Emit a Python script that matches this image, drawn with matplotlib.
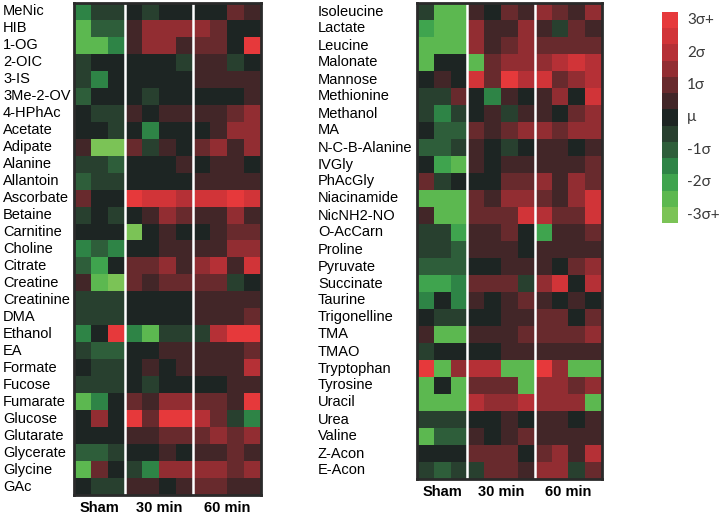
import numpy as np
import matplotlib.pyplot as plt
import matplotlib.transforms as mtransforms
from matplotlib.colors import ListedColormap, BoundaryNorm

plt.rcParams['font.family'] = ['Liberation Sans', 'DejaVu Sans']

# datos (z-score en unidades de sigma)
groups = ['Sham', '30 min', '60 min']

left_names = ['MeNic', 'HIB', '1-OG', '2-OIC', '3-IS', '3Me-2-OV', '4-HPhAc', 'Acetate',
              'Adipate', 'Alanine', 'Allantoin', 'Ascorbate', 'Betaine', 'Carnitine',
              'Choline', 'Citrate', 'Creatine', 'Creatinine', 'DMA', 'Ethanol', 'EA',
              'Formate', 'Fucose', 'Fumarate', 'Glucose', 'Glutarate', 'Glycerate',
              'Glycine', 'GAc']
left_values = [
    [-1.5, -0.5, -0.5, 0, -0.5, 0, 0, 0, 0, 1, 0.5],
    [-2.5, -1, -1, 0.5, 1.5, 1.5, 1.5, 1.5, 1, 0, 0],
    [-2.5, -2.5, -1.5, 0.5, 1.5, 1.5, 0.5, 1, 1, 0, 3],
    [-0.5, 0, 0, 0, 0, 0, -0.5, 0.5, 0.5, -0.5, 0],
    [-0.5, -1.5, 0, 0, 0, 0, 0, 0.5, 0.5, 0.5, 0.5],
    [-1, 0, 0, 0, -0.5, 0, 0, 0, 0, 0, 0.5],
    [0, -0.5, -0.5, 0.5, 0, 0.5, 0.5, 0.5, 0.5, 1, 1.5],
    [0, 0, -0.5, 0, -1.5, 0, 0, 0, 0.5, 1.5, 1.5],
    [0.5, -3, -3, 1, -0.5, 0.5, 0, 1, 1.5, 0.5, 1.5],
    [-0.5, -0.5, -1, 0, 0, 0, 0.5, 0, 0.5, 0.5, 0],
    [-1, -0.5, -0.5, 0, 0, 0, 0, 0.5, 0.5, 0.5, 0.5],
    [1, 0, 0, 3, 2.5, 2.5, 2, 2.5, 2.5, 3, 2.5],
    [-0.5, 0, -0.5, 0, 0.5, 1.5, 1, 0.5, 0.5, 1.5, 0.5],
    [0, 0, 0, -3, 0, 0.5, 0, 0, 0.5, 1, 1],
    [-1.5, -1, -1.5, 0, 0, 0.5, 0.5, 0.5, 0.5, 1.5, 1.5],
    [-1, -2, 0, 1, 1, 1.5, 0.5, 1.5, 2, 0.5, 2.5],
    [0.5, -2.5, -3, 1, 0.5, 1, 1, 1, 1, -0.5, 0],
    [-0.5, -0.5, -0.5, 0, 0, 0, 0, 0.5, 0.5, 0.5, 0.5],
    [-0.5, -0.5, -0.5, 0, 0, 0, 0, 0.5, 0.5, 0.5, 1],
    [-1.5, 0, 3, -1.5, -2.5, -0.5, -0.5, -0.5, 2, 3, 3],
    [-0.5, -1, -1, 0, 0, 0.5, 0.5, 0.5, 0.5, 0.5, 1],
    [0, -0.5, -0.5, 0, 0.5, 0, 0.5, 0.5, 0.5, 0.5, 2],
    [-0.5, -0.5, -0.5, 0, -0.5, 0, 0, 0, 0, 0.5, 0.5],
    [-2.5, -1.5, 0, 1, 0.5, 1.5, 1.5, 1, 1, 0.5, 3],
    [0, 1.5, 0, 3, 1, 3, 3, 2, 1, -0.5, -1.5],
    [0, 0, 0, 0.5, 0.5, 1, 1, 1, 1.5, 1, 1.5],
    [-1, -1, -0.5, 0, 0, 0.5, 0, 0.5, 0.5, 1, 0.5],
    [-2.5, 1, 0, -0.5, -1.5, 1.5, 1.5, 1.5, 1.5, 1, 1.5],
    [0, -0.5, -0.5, 0.5, 0.5, 0, 0.5, 1, 1, 0.5, 0.5],
]

right_names = ['Isoleucine', 'Lactate', 'Leucine', 'Malonate', 'Mannose', 'Methionine',
               'Methanol', 'MA', 'N-C-B-Alanine', 'IVGly', 'PhAcGly', 'Niacinamide',
               'NicNH2-NO', 'O-AcCarn', 'Proline', 'Pyruvate', 'Succinate', 'Taurine',
               'Trigonelline', 'TMA', 'TMAO', 'Tryptophan', 'Tyrosine', 'Uracil', 'Urea',
               'Valine', 'Z-Acon', 'E-Acon']
right_values = [
    [-0.5, -2.5, -2.5, 0.5, 0, 1, 0.5, 1.5, 1, 0.5, 1.5],
    [-2, -2.5, -2.5, 1.5, 0.5, 0.5, 1.5, 0.5, -0.5, 1, 0.5],
    [-2.5, -2.5, -2.5, 1.5, 0.5, 1, 1.5, 1, 1, 1, 1],
    [-2.5, 0, 0, -2.5, 1, 1.5, 1.5, 1.5, 2, 2.5, 2],
    [0, 0.5, 0, 2.5, 1, 3, 2, 2.5, 1, 1.5, 2],
    [-0.5, -0.5, 1, 0, -1.5, 0.5, 0, 0.5, 1.5, 0, 2.5],
    [-0.5, -1.5, -0.5, 0, 0.5, -0.5, 0.5, 0.5, 0, 1, 1.5],
    [0, -1, -1, 1, 0.5, 1, 1.5, 1.5, 1, 1.5, 1.5],
    [-1, -1, -0.5, 0.5, 0, -0.5, 0, 0.5, 0.5, 0, 0.5],
    [0, -2, -2.5, 0.5, 0, 0.5, 0.5, 0.5, 0.5, 0.5, 1],
    [1, -0.5, 0, 0, 0, 1, 1, 1.5, 0.5, 1.5, 1],
    [-2.5, -2.5, -2.5, 1, 0.5, 1.5, 1.5, 1, 0.5, 1.5, 2.5],
    [0.5, -2.5, -2.5, 1, 1, 1, 2.5, 2, 1, 1, 2.5],
    [-0.5, -0.5, -2, 0.5, 0.5, 1, 0, -2, 0.5, 0.5, 1],
    [-0.5, -0.5, -1, 0.5, 0.5, 0.5, 0, 0.5, 0.5, 0.5, 0.5],
    [-1, -1, -1, 0, 0, 0.5, 0.5, 0.5, 0, 1, 1.5],
    [-2, -2, -1.5, 1, 1, 1, -0.5, 1.5, 2.5, 0, 2],
    [-1.5, 0, -1.5, 0.5, 0, 0.5, 1, 0.5, 0, 0.5, 0],
    [0, -0.5, -0.5, 0, 0, 0.5, 0.5, 1, 1, 0, 1],
    [0.5, -2.5, -2.5, 0.5, 0.5, 0.5, 1, 1, 1, 1, 1.5],
    [-0.5, 0, 0, 0, 0, 0.5, 0.5, 0.5, 0.5, 0.5, 0.5],
    [3, -2.5, 1.5, 2, 2, -2.5, -2.5, 3, 1.5, -2.5, -2.5],
    [-2.5, 0, -2.5, 1, 1, 1, -2.5, 1.5, 1.5, 1, 1.5],
    [-2.5, -2.5, -2.5, 2, 1.5, 1.5, 2, 1.5, 1.5, 1.5, -2.5],
    [-0.5, -0.5, -0.5, 0, 0, 0.5, 0, 0.5, 0.5, 0, 0.5],
    [-2.5, -1, -1, 0.5, 0, 0.5, 1, 0.5, 0.5, 0.5, 0.5],
    [0, 0, 0, 1, 1, 1, 0, 1, 1.5, 0.5, 2],
    [-0.5, -1, -0.5, -0.5, 1, 1, 0.5, 1.5, 1.5, -0.5, 1],
]

scale_levels = [3, 2.5, 2, 1.5, 1, 0.5, 0, -0.5, -1, -1.5, -2, -2.5, -3]
scale_labels = ['3σ+', '2σ', '1σ', 'μ', '-1σ', '-2σ', '-3σ+']

# escala de colores verde - negro - rojo (13 niveles)
colors = ['#7BC356', '#5CB850', '#3FA44E', '#2E8446', '#2E5E3A', '#28402F', '#1D2523',
          '#422628', '#682A2D', '#922D32', '#B53036', '#D13438', '#E6393B']
cmap = ListedColormap(colors)
norm = BoundaryNorm(np.arange(-3.25, 3.5, 0.5), cmap.N)

fig = plt.figure(figsize=(7.21, 5.16), dpi=100)


def draw_panel(rect, names, values, label_x):
    ax = fig.add_axes(rect)
    ax.imshow(np.array(values), cmap=cmap, norm=norm, aspect='auto', interpolation='nearest')
    for xs in (2.5, 6.5):
        ax.axvline(xs, color='white', lw=1.8)
    ax.set_yticks([])
    ax.set_xticks([1, 4.5, 8.5], groups, fontweight='bold', fontsize=10.5)
    ax.tick_params(axis='x', length=0, pad=4)
    trans = mtransforms.blended_transform_factory(fig.transFigure, ax.transData)
    for i, name in enumerate(names):
        ax.text(label_x, i, name, transform=trans, ha='left', va='center', fontsize=10.5)
    for sp in ax.spines.values():
        sp.set_color('#2a2a2a')
        sp.set_linewidth(2)
    return ax


draw_panel([74 / 721, 1 - 495 / 516, 187 / 721, 492 / 516], left_names, left_values, 3 / 721)
draw_panel([417 / 721, 1 - 479 / 516, 185 / 721, 476 / 516], right_names, right_values, 318 / 721)

# barra de color
cax = fig.add_axes([662 / 721, 1 - 223 / 516, 16 / 721, 211 / 516])
cax.imshow(np.array(scale_levels)[:, None], cmap=cmap, norm=norm, aspect='auto',
           interpolation='nearest')
cax.set_xticks([])
cax.set_yticks([])
for sp in cax.spines.values():
    sp.set_visible(False)
ctrans = mtransforms.blended_transform_factory(fig.transFigure, cax.transData)
for k, lab in enumerate(scale_labels):
    cax.text(687 / 721, 2 * k, lab, transform=ctrans, ha='left', va='center',
             fontsize=11, color='#3a3a3a', family=['Lato', 'DejaVu Sans'])

fig.savefig('out.png', dpi=100)
